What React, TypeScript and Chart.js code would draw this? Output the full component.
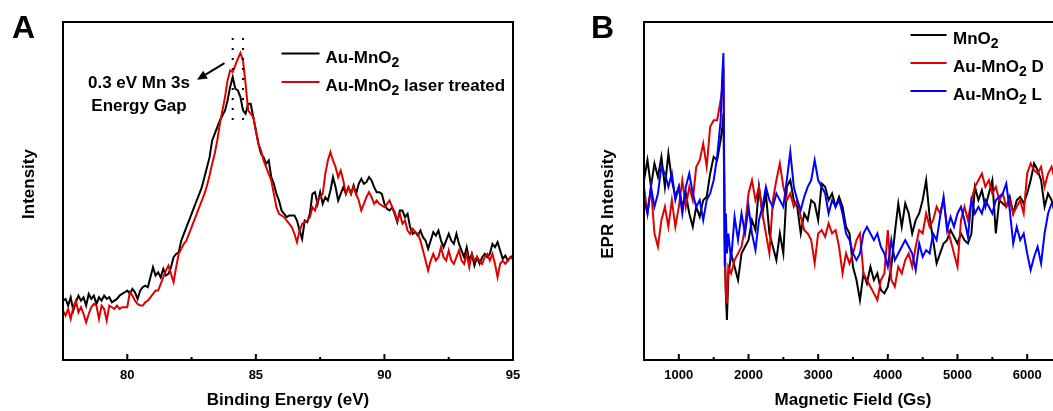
import React, { useEffect, useRef } from 'react';
import { Chart, registerables } from 'chart.js';

Chart.register(...registerables);

const FONT = '"Liberation Sans", Arial, Helvetica, sans-serif';

// ---------------- Panel A : XPS Mn 3s ----------------
const ENERGY_START = 77.5;
const ENERGY_STEP = 0.1;
const XPS_AU_MNO2 = [
  178, 183, 163, 188, 148, 173, 193, 178, 188, 163,
  198, 183, 193, 168, 188, 178, 193, 183, 188, 173,
  178, 183, 193, 198, 203, 208, 198, 213, 203, 183,
  208, 218, 223, 218, 248, 278, 253, 263, 248, 273,
  253, 258, 278, 308, 318, 323, 358, 378, 398, 418,
  438, 458, 478, 498, 518, 548, 578, 608, 658, 678,
  698, 718, 733, 748, 778, 818, 848, 813, 808, 788,
  748, 738, 768, 768, 728, 688, 648, 618, 608, 588,
  598, 548, 528, 498, 478, 448, 438, 428, 433, 433,
  433, 418, 388, 363, 418, 413, 438, 498, 503, 468,
  503, 468, 488, 478, 508, 548, 518, 478, 498, 518,
  498, 518, 498, 523, 498, 528, 543, 528, 533, 548,
  538, 518, 503, 503, 498, 468, 453, 448, 458, 438,
  413, 448, 448, 428, 438, 398, 378, 383, 373, 388,
  368, 358, 333, 358, 383, 373, 388, 358, 338, 358,
  378, 358, 348, 378, 348, 328, 308, 338, 298, 318,
  283, 308, 288, 308, 318, 308, 318, 348, 338, 353,
  328, 303, 313, 298, 308, 313,
];
const XPS_AU_MNO2_LASER = [
  148, 133, 153, 123, 158, 178, 143, 158, 138, 113,
  138, 158, 168, 163, 123, 163, 153, 118, 163, 158,
  153, 163, 153, 158, 158, 158, 203, 193, 178, 168,
  163, 163, 173, 178, 188, 198, 208, 208, 228, 248,
  268, 283, 258, 233, 278, 318, 333, 348, 358, 378,
  398, 418, 438, 458, 478, 498, 523, 553, 588, 618,
  658, 708, 748, 788, 838, 868, 863, 883, 903, 920,
  898, 828, 748, 738, 728, 688, 648, 628, 598, 578,
  558, 538, 498, 458, 438, 433, 428, 418, 408, 398,
  378, 353, 388, 408, 413, 418, 428, 458, 448, 478,
  488, 498, 558, 598, 623, 598, 578, 548, 568, 538,
  498, 518, 498, 518, 498, 478, 448, 468, 488, 503,
  488, 468, 478, 468, 463, 458, 468, 478, 458, 443,
  418, 438, 408, 418, 388, 378, 393, 383, 378, 358,
  328, 298, 268, 298, 318, 298, 308, 338, 308, 298,
  328, 298, 288, 308, 328, 298, 288, 318, 278, 318,
  298, 308, 298, 288, 308, 318, 298, 318, 288, 248,
  288, 298, 288, 298, 308, 303,
];
const ENERGIES = XPS_AU_MNO2.map((_, i) => +(ENERGY_START + i * ENERGY_STEP).toFixed(2));
const A_X_MIN = 77.5;
const A_X_MAX = 95;
const A_Y_MAX = 1013;
const A_MAJOR_TICKS = [80, 85, 90, 95];
const A_MINOR_TICKS = [82.5, 87.5, 92.5];
const A_GAP_LINES = [84.1, 84.5];
const A_GAP_SPAN = [695, 965];
const A_ARROW = { from: [83.78, 890], to: [82.71, 840] };
const A_LABELS = ['Au-MnO|2|', 'Au-MnO|2| laser treated'];
const A_COLORS = ['#000000', '#e00000'];

// ---------------- Panel B : EPR ----------------
const FIELDS = [
  500, 550, 600, 650, 700, 750, 800, 850, 900, 950,
  1000, 1050, 1100, 1150, 1200, 1250, 1300, 1350, 1400, 1450,
  1500, 1550, 1600, 1625, 1640, 1660, 1675, 1690, 1710, 1750,
  1800, 1850, 1900, 1950, 2000, 2050, 2100, 2150, 2200, 2250,
  2300, 2350, 2400, 2450, 2500, 2550, 2600, 2650, 2700, 2750,
  2800, 2850, 2900, 2950, 3000, 3050, 3100, 3150, 3200, 3250,
  3300, 3350, 3400, 3450, 3500, 3550, 3600, 3650, 3700, 3750,
  3800, 3850, 3900, 3950, 4000, 4050, 4100, 4150, 4200, 4250,
  4300, 4350, 4400, 4450, 4500, 4550, 4600, 4650, 4700, 4750,
  4800, 4850, 4900, 4950, 5000, 5050, 5100, 5150, 5200, 5250,
  5300, 5350, 5400, 5450, 5500, 5550, 5600, 5650, 5700, 5750,
  5800, 5850, 5900, 5950, 6000, 6050, 6100, 6150, 6200, 6250,
  6300, 6350, 6400, 6450,
];
const EPR_MNO2 = [
  540, 600, 520, 590, 550, 610, 520, 620, 540, 490,
  520, 460, 500, 440, 400, 460, 430, 480, 490, 560,
  610, 600, 660, 700, 740, 350, 200, 120, 250, 320,
  280, 240, 320, 340, 360, 420, 390, 520, 440, 500,
  380, 340, 300, 380, 320, 520, 540, 480, 460, 380,
  440, 420, 480, 470, 420, 530, 520, 480, 500, 460,
  490, 460, 400, 380, 280, 240, 180, 260, 230, 280,
  240, 260, 210, 200, 220, 280, 380, 470, 400, 470,
  440, 380, 420, 440, 480, 540, 430, 360, 290, 320,
  350, 360, 390, 370, 350, 380, 360, 350, 380, 520,
  480, 510, 460, 500, 540, 380, 480, 470, 460, 490,
  440, 480, 490, 470, 500, 540, 590, 570, 540, 460,
  500, 480, 440, 460,
];
const EPR_AU_MNO2_D = [
  520, 440, 520, 380, 340, 420, 460, 400, 480, 400,
  460, 540, 460, 520, 480, 580, 600, 650, 580, 700,
  720, 720, 780, 820, 880, 300, 200, 170, 280, 260,
  300, 320, 340, 400, 500, 540, 480, 520, 440, 380,
  320, 480, 540, 590, 520, 480, 500, 460, 480, 430,
  390, 380, 360, 290, 380, 390, 370, 410, 380, 390,
  340, 260, 320, 290, 320, 360, 380, 260, 240, 220,
  200, 180, 240, 260, 390, 240, 220, 280, 260, 300,
  320, 280, 340, 390, 380, 440, 400, 420, 460, 440,
  480, 400, 360, 320, 280, 420, 460, 420, 480, 520,
  540, 560, 520, 540, 500, 520, 480, 500, 460, 480,
  440, 460, 480, 440, 560, 590, 570, 560, 580, 520,
  560, 580, 540, 520,
];
const EPR_AU_MNO2_L = [
  480, 440, 520, 460, 500, 580, 560, 520, 560, 480,
  520, 440, 520, 560, 500, 460, 480, 420, 480, 500,
  540, 610, 720, 860, 922, 280, 440, 320, 380, 300,
  430, 360, 440, 380, 460, 380, 330, 420, 460, 520,
  480, 460, 500, 480, 460, 540, 625, 520, 480, 450,
  490, 520, 540, 600, 540, 520, 500, 440, 480, 460,
  480, 440, 380, 360, 320, 300, 320, 380, 400, 380,
  360, 380, 340, 320, 280, 360, 300, 320, 340, 360,
  340, 320, 270, 350, 310, 330, 320, 380, 360, 430,
  490, 390, 430, 400, 440, 460, 420, 370, 480, 440,
  460, 440, 480, 460, 440, 480, 490, 500, 530, 450,
  350, 400, 360, 380, 320, 270, 310, 340, 290, 380,
  440, 470, 460, 440,
];
const B_X_MIN = 500;
const B_X_MAX = 6500;
const B_Y_MAX = 1015;
const B_MAJOR_TICKS = [1000, 2000, 3000, 4000, 5000, 6000];
const B_MINOR_TICKS = [1500, 2500, 3500, 4500, 5500];
const B_LABELS = ['MnO|2|', 'Au-MnO|2| D', 'Au-MnO|2| L'];
const B_COLORS = ['#000000', '#e00000', '#0000ff'];

// ---------------- helpers ----------------
function drawRich(ctx: CanvasRenderingContext2D, text: string, x: number, y: number, size: number) {
  const parts = text.split('|');
  let cx = x;
  parts.forEach((t, i) => {
    if (!t) return;
    const sub = i % 2 === 1;
    ctx.font = `bold ${sub ? Math.round(size * 0.85) : size}px ${FONT}`;
    ctx.fillText(t, cx, sub ? y + 4 : y);
    cx += ctx.measureText(t).width;
  });
}

function drawFrameAndTicks(chart: any, major: number[], minor: number[]) {
  const { ctx, chartArea: a } = chart;
  const xs = chart.scales.x;
  ctx.save();
  ctx.strokeStyle = '#000';
  ctx.lineWidth = 2;
  ctx.beginPath();
  major.forEach((v) => {
    const px = xs.getPixelForValue(v);
    ctx.moveTo(px, a.bottom);
    ctx.lineTo(px, a.bottom - 6);
  });
  minor.forEach((v) => {
    const px = xs.getPixelForValue(v);
    ctx.moveTo(px, a.bottom);
    ctx.lineTo(px, a.bottom - 3);
  });
  ctx.stroke();
  ctx.strokeRect(a.left, a.top, a.right - a.left, a.bottom - a.top);
  ctx.restore();
}

function drawLegend(ctx: CanvasRenderingContext2D, labels: string[], colors: string[], x0: number, x1: number, ys: number[], tx: number) {
  labels.forEach((lab, i) => {
    ctx.strokeStyle = colors[i];
    ctx.lineWidth = 2;
    ctx.beginPath();
    ctx.moveTo(x0, ys[i]);
    ctx.lineTo(x1, ys[i]);
    ctx.stroke();
    ctx.fillStyle = '#000';
    ctx.textAlign = 'left';
    ctx.textBaseline = 'alphabetic';
    drawRich(ctx, lab, tx, ys[i] + 9, 17);
  });
}

function drawYTitle(ctx: CanvasRenderingContext2D, text: string, x: number, y: number) {
  ctx.save();
  ctx.translate(x, y);
  ctx.rotate(-Math.PI / 2);
  ctx.font = `bold 17px ${FONT}`;
  ctx.fillStyle = '#000';
  ctx.textAlign = 'center';
  ctx.textBaseline = 'middle';
  ctx.fillText(text, 0, 0);
  ctx.restore();
}

const panelAPlugin = {
  id: 'panelA',
  afterDraw(chart: any) {
    drawFrameAndTicks(chart, A_MAJOR_TICKS, A_MINOR_TICKS);
    const { ctx } = chart;
    const xs = chart.scales.x;
    const ys = chart.scales.y;
    ctx.save();
    // dotted gap lines
    ctx.strokeStyle = '#000';
    ctx.lineWidth = 2;
    ctx.setLineDash([2, 8]);
    ctx.beginPath();
    A_GAP_LINES.forEach((v) => {
      const px = xs.getPixelForValue(v);
      ctx.moveTo(px, ys.getPixelForValue(A_GAP_SPAN[1]));
      ctx.lineTo(px, ys.getPixelForValue(A_GAP_SPAN[0]));
    });
    ctx.stroke();
    ctx.setLineDash([]);
    // arrow
    const fx = xs.getPixelForValue(A_ARROW.from[0]);
    const fy = ys.getPixelForValue(A_ARROW.from[1]);
    const tx = xs.getPixelForValue(A_ARROW.to[0]);
    const ty = ys.getPixelForValue(A_ARROW.to[1]);
    const ang = Math.atan2(ty - fy, tx - fx);
    const hl = 10;
    const hw = 4.5;
    const bx = tx - hl * Math.cos(ang);
    const by = ty - hl * Math.sin(ang);
    ctx.beginPath();
    ctx.moveTo(fx, fy);
    ctx.lineTo(bx, by);
    ctx.stroke();
    ctx.fillStyle = '#000';
    ctx.beginPath();
    ctx.moveTo(tx, ty);
    ctx.lineTo(bx + hw * Math.sin(ang), by - hw * Math.cos(ang));
    ctx.lineTo(bx - hw * Math.sin(ang), by + hw * Math.cos(ang));
    ctx.closePath();
    ctx.fill();
    // annotation text
    ctx.font = `bold 17px ${FONT}`;
    ctx.textAlign = 'center';
    ctx.textBaseline = 'alphabetic';
    ctx.fillText('0.3 eV Mn 3s', 139, 88);
    ctx.fillText('Energy Gap', 139, 110.5);
    // panel letter
    ctx.font = `bold 32px ${FONT}`;
    ctx.textAlign = 'left';
    ctx.fillText('A', 12, 38);
    // legend
    drawLegend(ctx, A_LABELS, A_COLORS, 281.5, 319.5, [53.5, 82], 325.5);
    ctx.restore();
    drawYTitle(ctx, 'Intensity', 29.5, 184);
  },
};

const panelBPlugin = {
  id: 'panelB',
  afterDraw(chart: any) {
    drawFrameAndTicks(chart, B_MAJOR_TICKS, B_MINOR_TICKS);
    const { ctx } = chart;
    ctx.save();
    ctx.fillStyle = '#000';
    ctx.font = `bold 32px ${FONT}`;
    ctx.textAlign = 'left';
    ctx.textBaseline = 'alphabetic';
    ctx.fillText('B', 61, 38);
    drawLegend(ctx, B_LABELS, B_COLORS, 380.5, 416.5, [35, 63, 91], 423);
    ctx.restore();
    drawYTitle(ctx, 'EPR Intensity', 78, 204);
  },
};

function xAxis(min: number, max: number, ticks: number[], title: string) {
  return {
    type: 'linear' as const,
    min,
    max,
    afterBuildTicks: (s: any) => {
      s.ticks = ticks.map((v) => ({ value: v }));
    },
    afterFit: (s: any) => {
      s.height = 51;
      s.paddingLeft = 0;
      s.paddingRight = 0;
    },
    grid: { display: false, drawTicks: false },
    border: { display: false },
    ticks: {
      padding: 8,
      color: '#000',
      maxRotation: 0,
      autoSkip: false,
      font: { size: 13, weight: 'bold' as const, family: FONT },
      callback: (v: any) => String(v),
    },
    title: {
      display: true,
      text: title,
      color: '#000',
      font: { size: 17, weight: 'bold' as const, family: FONT },
      padding: { top: 0, bottom: 0 },
    },
  };
}

function baseOptions(padding: any, x: any, yMax: number) {
  return {
    responsive: false,
    animation: false as const,
    devicePixelRatio: 1,
    layout: { padding },
    plugins: { legend: { display: false }, tooltip: { enabled: false } },
    elements: { point: { radius: 0 }, line: { tension: 0 } },
    scales: {
      x,
      y: { type: 'linear' as const, display: false, min: 0, max: yMax },
    },
  };
}

export default function App() {
  const refA = useRef<HTMLCanvasElement>(null);
  const refB = useRef<HTMLCanvasElement>(null);

  useEffect(() => {
    Chart.defaults.font.family = FONT;
    Chart.defaults.color = '#000';
    const seriesA = [XPS_AU_MNO2, XPS_AU_MNO2_LASER];
    const chartA = new Chart(refA.current as HTMLCanvasElement, {
      type: 'line',
      data: {
        datasets: seriesA.map((vals, i) => ({
          label: A_LABELS[i].replace(/\|/g, ''),
          data: vals.map((v, j) => ({ x: ENERGIES[j], y: v })),
          borderColor: A_COLORS[i],
          borderWidth: 2,
          pointRadius: 0,
          fill: false,
          order: i === 1 ? 0 : 1,
        })),
      },
      options: baseOptions(
        { left: 63, top: 22, right: 17, bottom: 0 },
        xAxis(A_X_MIN, A_X_MAX, A_MAJOR_TICKS, 'Binding Energy (eV)'),
        A_Y_MAX
      ) as any,
      plugins: [panelAPlugin],
    });

    const seriesB = [EPR_MNO2, EPR_AU_MNO2_D, EPR_AU_MNO2_L];
    const chartB = new Chart(refB.current as HTMLCanvasElement, {
      type: 'line',
      data: {
        datasets: seriesB.map((vals, i) => ({
          label: B_LABELS[i].replace(/\|/g, ''),
          data: vals.map((v, j) => ({ x: FIELDS[j], y: v })),
          borderColor: B_COLORS[i],
          borderWidth: 2,
          pointRadius: 0,
          fill: false,
          order: 2 - i,
        })),
      },
      options: baseOptions(
        { left: 114, top: 22, right: 28, bottom: 0 },
        xAxis(B_X_MIN, B_X_MAX, B_MAJOR_TICKS, 'Magnetic Field (Gs)'),
        B_Y_MAX
      ) as any,
      plugins: [panelBPlugin],
    });

    return () => {
      chartA.destroy();
      chartB.destroy();
    };
  }, []);

  return (
    <div
      style={{
        position: 'fixed',
        left: 0,
        top: 0,
        width: 1053,
        height: 411,
        overflow: 'hidden',
        background: '#ffffff',
      }}
    >
      <canvas
        ref={refA}
        width={530}
        height={411}
        style={{ position: 'absolute', left: 0, top: 0, display: 'block' }}
      />
      <canvas
        ref={refB}
        width={560}
        height={411}
        style={{ position: 'absolute', left: 530, top: 0, display: 'block' }}
      />
    </div>
  );
}
